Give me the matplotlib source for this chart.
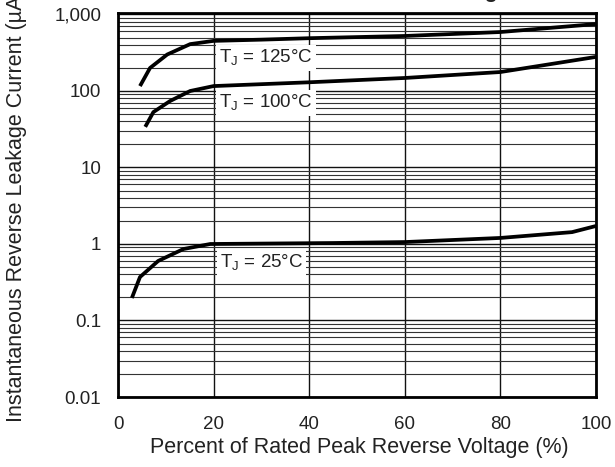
import matplotlib
matplotlib.use("Agg")
import matplotlib.pyplot as plt
from matplotlib.ticker import FixedLocator, LogLocator, NullFormatter

plt.rcParams['font.family'] = ['Liberation Sans', 'DejaVu Sans']

# curves (percent of rated voltage, leakage uA)
x_125 = [4.6, 6.7, 10.3, 15.1, 20, 30, 40, 60, 80, 100]
y_125 = [116, 200, 300, 410, 452, 469, 490, 524, 590, 750]

x_100 = [5.7, 7.4, 10.9, 15.1, 20, 40, 60, 80, 100]
y_100 = [34, 53, 74, 100, 116, 130, 148, 177, 279]

x_25 = [2.9, 4.6, 8.4, 13.7, 19.3, 45, 60, 80, 95, 100]
y_25 = [0.197, 0.37, 0.60, 0.86, 1.0, 1.03, 1.06, 1.2, 1.43, 1.72]

y_ticks = [0.01, 0.1, 1, 10, 100, 1000]
y_tick_labels = ["0.01", "0.1", "1", "10", "100", "1,000"]
x_ticks = [0, 20, 40, 60, 80, 100]

labels = ["T$_\\mathregular{J}$ = 125°C", "T$_\\mathregular{J}$ = 100°C",
          "T$_\\mathregular{J}$ = 25°C"]
label_pos = [(31, 270), (31, 70), (30, 0.565)]

txt = '#222222'

fig = plt.figure(figsize=(6.15, 4.67), dpi=100)
ax = fig.add_axes([118 / 615, 1 - 397 / 467, 478 / 615, 384.5 / 467])

ax.set_yscale('log')
ax.set_xlim(0, 100)
ax.set_ylim(0.01, 1062)

ax.yaxis.set_major_locator(FixedLocator(y_ticks))
ax.set_yticklabels(y_tick_labels)
ax.yaxis.set_minor_locator(LogLocator(base=10, subs=range(2, 10), numticks=20))
ax.yaxis.set_minor_formatter(NullFormatter())
ax.set_xticks(x_ticks)

ax.grid(True, which='major', axis='both', color='#111111', lw=1.0)
ax.grid(True, which='minor', axis='y', color='#333333', lw=0.8)
ax.set_axisbelow(True)

ax.tick_params(axis='both', which='both', length=0, labelsize=13.5, colors=txt)
ax.tick_params(axis='y', pad=12)
ax.tick_params(axis='x', pad=14)

for s in ax.spines.values():
    s.set_linewidth(2)
    s.set_color('black')

for xs, ys in [(x_125, y_125), (x_100, y_100), (x_25, y_25)]:
    ax.plot(xs, ys, color='black', lw=2.7, solid_capstyle='butt', zorder=3)

for lab, (lx, ly) in zip(labels, label_pos):
    ax.text(lx, ly, lab, ha='center', va='center', fontsize=13.5, color=txt, zorder=4,
            bbox=dict(facecolor='white', edgecolor='none', pad=2))

fig.text(359 / 615, 1 - 447 / 467, "Percent of Rated Peak Reverse Voltage (%)",
         ha='center', va='center', fontsize=15.5, color=txt)
fig.text(17 / 615, 1 - 205 / 467, "Instantaneous Reverse Leakage Current (µA)",
         ha='center', va='center', rotation=90, fontsize=15.5, color=txt)
# title sits above the canvas, only the descender of the g shows
fig.text(509 / 615, 1 + 2 / 467, "Reverse Leakage", ha='right', va='baseline',
         fontsize=15, fontweight='bold', color=txt)

fig.savefig("out.png", dpi=100)
